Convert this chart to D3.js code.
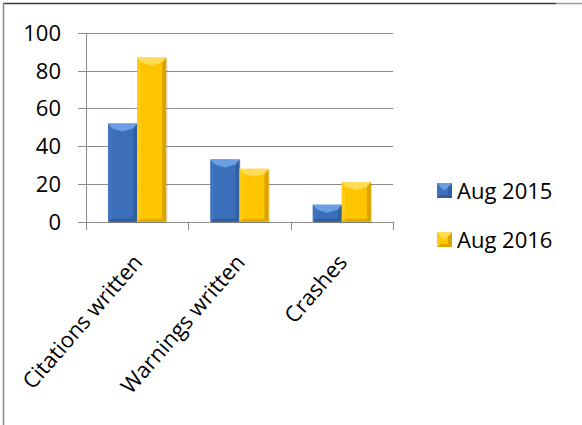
<!DOCTYPE html>
<html>
<head>
<meta charset="utf-8">
<script src="https://cdn.jsdelivr.net/npm/d3@7"></script>
<style>
  body { margin: 0; background: #fff; }
  text { font-family: "Open Sans", sans-serif; fill: #000; }
</style>
</head>
<body>
<script>
let categories = ["Citations written", "Warnings written", "Crashes"];
let seriesNames = ["Aug 2015", "Aug 2016"];
let aug2015 = [52, 33, 9];
let aug2016 = [87, 28, 21];
let yTicks = [0, 20, 40, 60, 80, 100];

// bevel palettes: body, top, left, right, bottom
let palettes = [
    {body: "#3b6fba", top: "#6a9fe6", left: "#3e73bf", right: "#30609f", bottom: "#2f5b98"},
    {body: "#ffc600", top: "#ffdc55", left: "#ffca10", right: "#d9a300", bottom: "#dea800"}
];

let W = 582, H = 425;
let svg = d3.select("body").append("svg")
    .attr("width", W)
    .attr("height", H);

// frame
svg.append("line").attr("x1", 3).attr("x2", 556).attr("y1", 3.5).attr("y2", 3.5)
    .attr("stroke", "#3a3a3a").attr("stroke-width", 1.5);
svg.append("line").attr("x1", 556).attr("x2", 582).attr("y1", 3.5).attr("y2", 3.5)
    .attr("stroke", "#9a9a9a").attr("stroke-width", 1.5);
svg.append("line").attr("x1", 3.5).attr("x2", 3.5).attr("y1", 3).attr("y2", H)
    .attr("stroke", "#8a8a8a").attr("stroke-width", 1.5);

let x0 = d3.scaleBand()
    .domain(categories)
    .range([86, 393])
    .paddingInner(0.433)
    .paddingOuter(0.2165);
let x1 = d3.scaleBand()
    .domain(seriesNames)
    .range([0, x0.bandwidth()]);
let y = d3.scaleLinear()
    .domain([0, 100])
    .range([221.7, 33]);

// gridlines
svg.selectAll(".grid")
    .data(yTicks)
    .enter().append("line")
    .attr("class", "grid")
    .attr("x1", 78).attr("x2", 393)
    .attr("y1", function (d) { return Math.round(y(d)) + 0.5; })
    .attr("y2", function (d) { return Math.round(y(d)) + 0.5; })
    .attr("stroke", "#8c8c8c").attr("stroke-width", 1);

// y axis line
svg.append("line").attr("x1", 86.5).attr("x2", 86.5)
    .attr("y1", y(100)).attr("y2", 230)
    .attr("stroke", "#8c8c8c");

// category ticks
let step = x0.step();
let boundaries = categories.map(function (d) { return x0(d) - step * x0.paddingInner() / 2 + step; });
svg.selectAll(".ctick")
    .data(boundaries)
    .enter().append("line")
    .attr("class", "ctick")
    .attr("x1", function (d) { return Math.round(d) + 0.5; })
    .attr("x2", function (d) { return Math.round(d) + 0.5; })
    .attr("y1", y(0)).attr("y2", 230)
    .attr("stroke", "#8c8c8c");

// y labels
svg.selectAll(".ylab")
    .data(yTicks)
    .enter().append("text")
    .attr("class", "ylab")
    .attr("x", 61)
    .attr("y", function (d) { return y(d); })
    .attr("dy", "0.36em")
    .attr("text-anchor", "end")
    .style("font-size", "22px")
    .text(function (d) { return d; });

// bevelled bar
function bevelBar(g, x, yTop, w, h, p, shadow) {
    let bt = Math.min(8, h / 2), bs = Math.min(4, w / 2), bb = Math.min(3, h / 2);
    let x2 = x + w, y2 = yTop + h;
    if (shadow) {
        g.append("rect").attr("x", x + 1.5).attr("y", yTop + 1.5).attr("width", w).attr("height", h)
            .attr("fill", "#000").attr("opacity", 0.1);
    }
    g.append("rect").attr("x", x).attr("y", yTop).attr("width", w).attr("height", h).attr("fill", p.body);
    let poly = function (pts, c) {
        g.append("polygon").attr("points", pts.map(function (q) { return q.join(","); }).join(" ")).attr("fill", c);
    };
    poly([[x, yTop], [x + bs, yTop + bt * 0.6], [x + bs, y2 - bb], [x, y2]], p.left);
    poly([[x2, yTop], [x2, y2], [x2 - bs, y2 - bb], [x2 - bs, yTop + bt * 0.6]], p.right);
    poly([[x, y2], [x + bs, y2 - bb], [x2 - bs, y2 - bb], [x2, y2]], p.bottom);
    poly([[x, yTop], [x2, yTop], [x2 - bs, yTop + bt * 0.6], [x + w / 2, yTop + bt], [x + bs, yTop + bt * 0.6]], p.top);
}

let seriesData = [aug2015, aug2016];
let barsG = svg.append("g");
seriesData.forEach(function (vals, s) {
    vals.forEach(function (v, i) {
        let bx = x0(categories[i]) + x1(seriesNames[s]);
        bevelBar(barsG, bx, y(v), x1.bandwidth(), y(0) - y(v), palettes[s], true);
    });
});

// category labels
svg.selectAll(".clab")
    .data(categories)
    .enter().append("text")
    .attr("class", "clab")
    .attr("text-anchor", "end")
    .style("font-size", "22px")
    .attr("transform", function (d) {
        let cx = x0(d) + x0.bandwidth() / 2 + 6.5;
        return "translate(" + cx + ",263) rotate(-49)";
    })
    .text(function (d) { return d; });

// legend
let legend = svg.selectAll(".legend")
    .data(seriesNames)
    .enter().append("g")
    .attr("class", "legend")
    .attr("transform", function (d, i) { return "translate(437," + (183 + i * 49) + ")"; });
legend.each(function (d, i) {
    let g = d3.select(this);
    bevelBar(g.append("g"), 0, 0, 15, 15, palettes[i], false);
    g.append("text")
        .attr("x", 20)
        .attr("y", 16)
        .style("font-size", "22px")
        .text(d);
});
</script>
</body>
</html>
